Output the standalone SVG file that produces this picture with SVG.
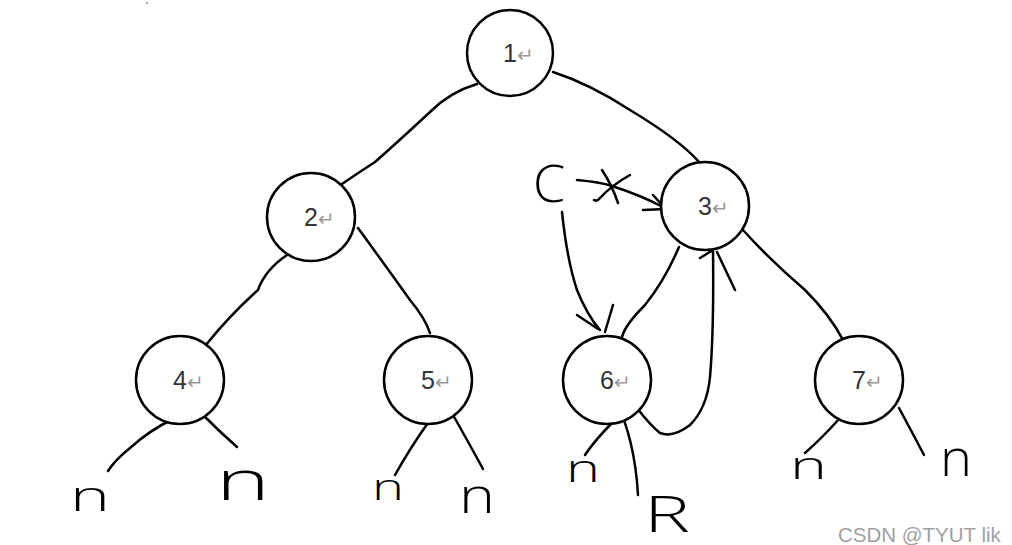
<svg xmlns="http://www.w3.org/2000/svg" width="1012" height="545" viewBox="0 0 1012 545">
<style>
.node circle{fill:#fff;stroke:#000;stroke-width:2.5}
.lbl{font-family:"Liberation Sans",Arial,sans-serif;font-size:25px;fill:#333}
.ret{fill:#999;font-size:20px}
.ink{fill:none;stroke:#000;stroke-width:2.5;stroke-linecap:round;stroke-linejoin:round}
.hand{font-family:"Open Sans","DejaVu Sans",sans-serif;font-weight:300;fill:#000}
.wm{font-family:"Liberation Sans",Arial,sans-serif;font-size:20.5px;fill:#a0a0a0}
</style>
<rect width="1012" height="545" fill="#fff"/>
<circle cx="147" cy="3" r="1" fill="#888"/>
<g id="connectors" class="ink">
<path d="M477 84 Q450 92 430 112 Q400 140 375 162 Q355 175 342 184"/>
<path d="M553 72 Q590 84 630 110 Q680 140 700 163"/>
<path d="M287 255 Q265 270 258 290 Q230 315 205 346"/>
<path d="M358 228 Q385 265 410 300 Q425 318 430 333"/>
<path d="M743 230 Q770 260 805 290 Q830 315 843 340"/>
<path d="M679 247 Q665 280 645 305 Q625 325 622 337"/>
<path d="M562 212 Q567 260 577 290 Q587 315 600 330"/>
<path d="M577 315 L598 329 M613 305 L605 332"/>
<path d="M577 180 Q600 182 612 186 Q640 195 663 207"/>
<path d="M653 195 L663 206 M643 210 L665 209"/>
<path d="M602 170 Q612 185 618 203 M630 175 Q612 185 600 198 Q597 202 594 200"/>
<path d="M637 408 Q650 425 660 433 Q673 438 690 425 Q707 408 710 377 Q714 330 713 252"/>
<path d="M700 258 L713 250 M717 252 L735 290"/>
<path d="M638 495 Q635 440 615 398"/>
<path d="M618 388 L633 407 M608 392 L603 406 L612 405"/>
<path d="M173 419 Q150 430 130 448 Q115 460 108 471"/>
<path d="M203 415 Q220 432 237 447"/>
<path d="M430 420 Q410 448 395 475"/>
<path d="M453 415 Q470 445 483 469"/>
<path d="M612 423 Q595 440 585 455"/>
<path d="M840 418 Q822 438 805 453"/>
<path d="M899 408 Q912 432 924 455"/>
</g>
<g id="node1" class="node"><circle cx="510" cy="53" r="43"/><text class="lbl" x="503" y="62">1<tspan class="ret">↵</tspan></text></g>
<g id="node2" class="node"><circle cx="311" cy="217" r="44"/><text class="lbl" x="304" y="226">2<tspan class="ret">↵</tspan></text></g>
<g id="node3" class="node"><circle cx="705" cy="206" r="44"/><text class="lbl" x="698" y="215">3<tspan class="ret">↵</tspan></text></g>
<g id="node4" class="node"><circle cx="180" cy="380" r="44"/><text class="lbl" x="173" y="389">4<tspan class="ret">↵</tspan></text></g>
<g id="node5" class="node"><circle cx="428" cy="380" r="44"/><text class="lbl" x="421" y="389">5<tspan class="ret">↵</tspan></text></g>
<g id="node6" class="node"><circle cx="607" cy="380" r="44"/><text class="lbl" x="600" y="389">6<tspan class="ret">↵</tspan></text></g>
<g id="node7" class="node"><circle cx="859" cy="380" r="44"/><text class="lbl" x="852" y="389">7<tspan class="ret">↵</tspan></text></g>
<g id="labels">
<text class="hand" x="533" y="202" font-size="52">C</text>
<text class="hand" x="644" y="532" font-size="50" textLength="46" lengthAdjust="spacingAndGlyphs">R</text>
<text class="hand" x="70" y="511" font-size="42" textLength="40" lengthAdjust="spacingAndGlyphs">n</text>
<text class="hand" x="216" y="500" font-size="56" textLength="54" lengthAdjust="spacingAndGlyphs">n</text>
<text class="hand" x="372" y="500" font-size="36" textLength="32" lengthAdjust="spacingAndGlyphs">n</text>
<text class="hand" x="459" y="513" font-size="48" textLength="36" lengthAdjust="spacingAndGlyphs">n</text>
<text class="hand" x="566" y="482" font-size="38" textLength="34" lengthAdjust="spacingAndGlyphs">n</text>
<text class="hand" x="790" y="479" font-size="38" textLength="37" lengthAdjust="spacingAndGlyphs">n</text>
<text class="hand" x="940" y="476" font-size="52" textLength="32" lengthAdjust="spacingAndGlyphs">n</text>
<text class="wm" x="838" y="542">CSDN @TYUT lik</text>
</g>
</svg>
